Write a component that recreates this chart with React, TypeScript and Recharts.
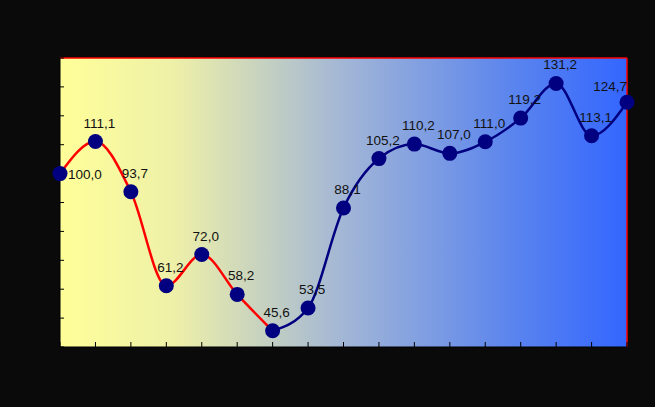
import { useEffect } from "react"
import { CartesianGrid, LabelList, Line, LineChart, ReferenceLine, XAxis, YAxis } from "recharts"

const periods = ["1", "2", "3", "4", "5", "6", "7", "8", "9", "10", "11", "12", "13", "14", "15", "16", "17"]
const values = [100.0, 111.1, 93.7, 61.2, 72.0, 58.2, 45.6, 53.5, 88.1, 105.2, 110.2, 107.0, 111.0, 119.2, 131.2, 113.1, 124.7]
// the curve is red up to this point, navy after it
const splitIndex = 6
const yTicks = [40, 50, 60, 70, 80, 90, 100, 110, 120, 130, 140]

const data = periods.map((p, i) => ({
  period: p,
  value: values[i],
  early: i <= splitIndex ? values[i] : null,
  late: i >= splitIndex ? values[i] : null,
}))

const fmt = (v: any) => (typeof v === "number" ? v.toFixed(1).replace(".", ",") : "")

// axis labels are black on black in the original, so only the tick marks show
const NoTickLabel = () => <g />

// labels sit above the points; the two end ones are pushed inside the plot
const PointLabel = (props: any) => {
  const { x, y, value, index } = props
  const style = { fontFamily: "Liberation Sans, Arial, sans-serif", fontSize: 13.5, fill: "#111" }
  if (index === 0) {
    return (
      <text x={x + 8} y={y + 5} textAnchor="start" style={style}>
        {fmt(value)}
      </text>
    )
  }
  if (index === values.length - 1) {
    return (
      <text x={x} y={y - 11} textAnchor="end" style={style}>
        {fmt(value)}
      </text>
    )
  }
  return (
    <text x={x + 4} y={y - 14} textAnchor="middle" style={style}>
      {fmt(value)}
    </text>
  )
}

export default function App() {
  useEffect(() => {
    document.body.style.margin = "0"
  }, [])

  return (
    <div style={{ width: 655, height: 407, background: "#0a0a0a" }}>
      <LineChart width={655} height={407} data={data} margin={{ top: 58, right: 28, bottom: 59, left: 59 }}>
        <defs>
          <linearGradient id="plotBg" x1="0" y1="0" x2="1" y2="0">
            <stop offset="0%" stopColor="#ffff99" />
            <stop offset="20%" stopColor="#eef0a8" />
            <stop offset="50%" stopColor="#a2b6d6" />
            <stop offset="80%" stopColor="#5a84ee" />
            <stop offset="100%" stopColor="#3366ff" />
          </linearGradient>
        </defs>
        <CartesianGrid horizontal={false} vertical={false} fill="url(#plotBg)" fillOpacity={1} />
        <XAxis
          dataKey="period"
          height={1}
          stroke="#000"
          tickSize={-5}
          tick={NoTickLabel}
          interval={0}
        />
        <YAxis
          domain={[40, 140]}
          ticks={yTicks}
          width={1}
          stroke="#000"
          tickSize={-4}
          tick={NoTickLabel}
          interval={0}
        />
        <ReferenceLine y={140} stroke="#ff0000" strokeWidth={1.5} />
        <ReferenceLine x="17" stroke="#ff0000" strokeWidth={1.5} />
        <Line
          type="monotone"
          dataKey="early"
          stroke="#ff0000"
          strokeWidth={2.5}
          dot={false}
          connectNulls={false}
          isAnimationActive={false}
        />
        <Line
          type="monotone"
          dataKey="late"
          stroke="#000080"
          strokeWidth={2.5}
          dot={false}
          connectNulls={false}
          isAnimationActive={false}
        />
        <Line
          dataKey="value"
          stroke="none"
          dot={{ r: 7.5, fill: "#000080", stroke: "none" }}
          activeDot={false}
          isAnimationActive={false}
        >
          <LabelList dataKey="value" content={PointLabel} />
        </Line>
      </LineChart>
    </div>
  )
}
